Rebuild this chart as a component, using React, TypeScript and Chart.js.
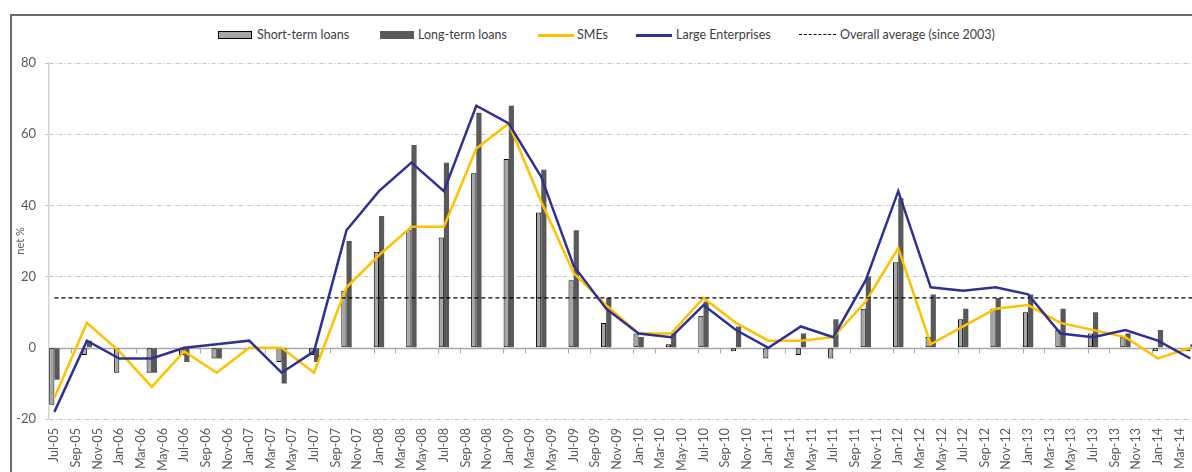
import React, { useEffect, useRef } from "react";
import { Chart, registerables } from "chart.js";

Chart.register(...registerables);

// Monthly category axis (tick labels shown every second month)
const months = [
  "Jul-05", "Aug-05", "Sep-05", "Oct-05", "Nov-05", "Dec-05",
  "Jan-06", "Feb-06", "Mar-06", "Apr-06", "May-06", "Jun-06",
  "Jul-06", "Aug-06", "Sep-06", "Oct-06", "Nov-06", "Dec-06",
  "Jan-07", "Feb-07", "Mar-07", "Apr-07", "May-07", "Jun-07",
  "Jul-07", "Aug-07", "Sep-07", "Oct-07", "Nov-07", "Dec-07",
  "Jan-08", "Feb-08", "Mar-08", "Apr-08", "May-08", "Jun-08",
  "Jul-08", "Aug-08", "Sep-08", "Oct-08", "Nov-08", "Dec-08",
  "Jan-09", "Feb-09", "Mar-09", "Apr-09", "May-09", "Jun-09",
  "Jul-09", "Aug-09", "Sep-09", "Oct-09", "Nov-09", "Dec-09",
  "Jan-10", "Feb-10", "Mar-10", "Apr-10", "May-10", "Jun-10",
  "Jul-10", "Aug-10", "Sep-10", "Oct-10", "Nov-10", "Dec-10",
  "Jan-11", "Feb-11", "Mar-11", "Apr-11", "May-11", "Jun-11",
  "Jul-11", "Aug-11", "Sep-11", "Oct-11", "Nov-11", "Dec-11",
  "Jan-12", "Feb-12", "Mar-12", "Apr-12", "May-12", "Jun-12",
  "Jul-12", "Aug-12", "Sep-12", "Oct-12", "Nov-12", "Dec-12",
  "Jan-13", "Feb-13", "Mar-13", "Apr-13", "May-13", "Jun-13",
  "Jul-13", "Aug-13", "Sep-13", "Oct-13", "Nov-13", "Dec-13",
  "Jan-14", "Feb-14", "Mar-14", "Apr-14", "May-14", "Jun-14",
];

// Survey rounds (quarterly observations)
const quarters = [
  "Jul-05", "Oct-05", "Jan-06", "Apr-06", "Jul-06", "Oct-06",
  "Jan-07", "Apr-07", "Jul-07", "Oct-07", "Jan-08", "Apr-08",
  "Jul-08", "Oct-08", "Jan-09", "Apr-09", "Jul-09", "Oct-09",
  "Jan-10", "Apr-10", "Jul-10", "Oct-10", "Jan-11", "Apr-11",
  "Jul-11", "Oct-11", "Jan-12", "Apr-12", "Jul-12", "Oct-12",
  "Jan-13", "Apr-13", "Jul-13", "Oct-13", "Jan-14", "Apr-14",
];

const shortTermLoans = [
  -16, -2, -7, -7, -2, -3, 0, -4, -2, 16, 27, 33,
  31, 49, 53, 38, 19, 7, 4, 1, 9, -1, -3, -2,
  -3, 11, 24, 3, 8, 11, 10, 5, 4, 3, -1, -1,
];

const longTermLoans = [
  -9, 2, 0, -7, -4, -3, 0, -10, -4, 30, 37, 57,
  52, 66, 68, 50, 33, 14, 3, 4, 13, 6, 0, 4,
  8, 20, 42, 15, 11, 14, 15, 11, 10, 4, 5, 1,
];

const smes = [
  -14, 7, -1, -11, -1, -7, 0, 0, -7, 17, 26, 34,
  34, 56, 63, 41, 21, 12, 4, 4, 14, 7, 2, 2,
  3, 13, 28, 1, 6, 11, 12, 7, 5, 3, -3, 0,
];

const largeEnterprises = [
  -18, 2, -3, -3, 0, 1, 2, -7, -1, 33, 44, 52,
  44, 68, 63, 48, 23, 11, 4, 3, 12, 5, 0, 6,
  3, 19, 44, 17, 16, 17, 15, 4, 3, 5, 2, -3,
];

const overallAverage = 14;

const yTicks = [-20, 0, 20, 40, 60, 80];

const toMonthly = (vals: number[]) =>
  months.map((m) => {
    const i = quarters.indexOf(m);
    return i >= 0 ? vals[i] : null;
  });

const FONT = "Lato, 'DejaVu Sans', sans-serif";
const GRID_DASH = [4, 2, 1, 2];

const zeroLinePlugin = {
  id: "zeroLine",
  beforeDatasetsDraw(chart: any) {
    const { ctx, chartArea, scales } = chart;
    const x = scales.x;
    const y = scales.y;
    const yz = Math.round(y.getPixelForValue(0)) + 0.5;
    const w = x.getPixelForValue(1) - x.getPixelForValue(0);
    ctx.save();
    ctx.strokeStyle = "#a9a9a9";
    ctx.lineWidth = 1.5;
    ctx.beginPath();
    ctx.moveTo(chartArea.left, yz);
    ctx.lineTo(chartArea.right, yz);
    ctx.stroke();
    ctx.lineWidth = 1;
    ctx.beginPath();
    for (let k = 1; k < months.length; k++) {
      if (k % 6 === 0 || k % 6 === 2) {
        const px = Math.round(x.getPixelForValue(k) - w / 2) + 0.5;
        ctx.moveTo(px, yz);
        ctx.lineTo(px, yz + 5);
      }
    }
    ctx.stroke();
    ctx.restore();
  },
};

const legendItems = [
  { label: "Short-term loans", kind: "box", color: "#a6a6a6", border: true, x: 218, tx: 257 },
  { label: "Long-term loans", kind: "box", color: "#595959", border: false, x: 380, tx: 418 },
  { label: "SMEs", kind: "line", color: "#ffc000", x: 538, tx: 577 },
  { label: "Large Enterprises", kind: "line", color: "#2e3192", x: 636, tx: 676 },
  { label: "Overall average (since 2003)", kind: "dash", color: "#000", x: 799, tx: 840 },
];

export default function App() {
  const canvasRef = useRef<HTMLCanvasElement | null>(null);

  useEffect(() => {
    const canvas = canvasRef.current;
    if (!canvas) return;
    const chart = new Chart(canvas, {
      type: "bar",
      data: {
        labels: months,
        datasets: [
          {
            type: "line",
            label: "Large Enterprises",
            data: toMonthly(largeEnterprises),
            borderColor: "#2e3192",
            backgroundColor: "#2e3192",
            borderWidth: 2.5,
            pointRadius: 0,
            spanGaps: true,
            tension: 0,
            order: 0,
          },
          {
            type: "line",
            label: "SMEs",
            data: toMonthly(smes),
            borderColor: "#ffc000",
            backgroundColor: "#ffc000",
            borderWidth: 2.5,
            pointRadius: 0,
            spanGaps: true,
            tension: 0,
            order: 1,
          },
          {
            type: "line",
            label: "Overall average (since 2003)",
            data: months.map(() => overallAverage),
            borderColor: "#000000",
            borderWidth: 1.3,
            borderDash: [4, 3],
            pointRadius: 0,
            order: 0,
          },
          {
            type: "bar",
            label: "Short-term loans",
            data: toMonthly(shortTermLoans),
            backgroundColor: "#a6a6a6",
            borderColor: "#000000",
            borderWidth: 1,
            borderSkipped: false,
            barPercentage: 1,
            categoryPercentage: 0.96,
            order: 2,
          },
          {
            type: "bar",
            label: "Long-term loans",
            data: toMonthly(longTermLoans),
            backgroundColor: "#595959",
            borderWidth: 0,
            barPercentage: 1,
            categoryPercentage: 0.96,
            order: 2,
          },
        ],
      },
      options: {
        responsive: false,
        animation: false,
        devicePixelRatio: 1,
        layout: { padding: { left: 10, top: 63, right: 5, bottom: 0 } },
        plugins: {
          legend: { display: false },
          tooltip: { enabled: false },
        },
        scales: {
          x: {
            type: "category",
            offset: true,
            grid: { display: false, drawTicks: false },
            border: { display: false },
            ticks: {
              autoSkip: false,
              minRotation: 90,
              maxRotation: 90,
              padding: 9,
              color: "#595959",
              font: { family: FONT, size: 12.5 },
              callback: (_v: any, i: number) => (i % 2 === 0 ? months[i] : ""),
            },
            afterFit: (scale: any) => {
              scale.height = 53;
            },
          },
          y: {
            min: -20,
            max: 80,
            afterBuildTicks: (scale: any) => {
              scale.ticks = yTicks.map((v) => ({ value: v }));
            },
            grid: {
              color: (c: any) => (c.tick && c.tick.value === 0 ? "rgba(0,0,0,0)" : "#c4c4c4"),
              tickColor: (c: any) => (c.tick && c.tick.value === 0 ? "rgba(0,0,0,0)" : "#c4c4c4"),
              lineWidth: 1,
              tickLength: 4,
              tickBorderDash: GRID_DASH,
            },
            border: { display: true, color: "#d4d4d4", width: 1.5, dash: GRID_DASH },
            ticks: {
              padding: 9,
              color: "#595959",
              font: { family: FONT, size: 13 },
            },
            title: {
              display: true,
              text: "net %",
              color: "#595959",
              font: { family: FONT, size: 11 },
              padding: { top: 4, bottom: 0 },
            },
            afterFit: (scale: any) => {
              scale.width = 39;
            },
          },
        },
      },
      plugins: [zeroLinePlugin],
    } as any);
    return () => chart.destroy();
  }, []);

  return (
    <div
      style={{
        position: "absolute",
        left: 0,
        top: 0,
        width: 1192,
        height: 472,
        overflow: "hidden",
        background: "#fff",
        fontFamily: FONT,
      }}
    >
      <div
        style={{
          position: "absolute",
          left: 10,
          top: 14,
          width: 2000,
          height: 1000,
          borderLeft: "2px solid #6b6b6b",
          borderTop: "2px solid #6b6b6b",
        }}
      />
      {legendItems.map((it) => (
        <React.Fragment key={it.label}>
          {it.kind === "box" && (
            <div
              style={{
                position: "absolute",
                left: it.x,
                top: 31,
                width: 34,
                height: 8,
                boxSizing: "border-box",
                background: it.color,
                border: it.border ? "1px solid #000" : "none",
              }}
            />
          )}
          {it.kind === "line" && (
            <div
              style={{
                position: "absolute",
                left: it.x,
                top: 34,
                width: 36,
                height: 2.5,
                background: it.color,
              }}
            />
          )}
          {it.kind === "dash" && (
            <div
              style={{
                position: "absolute",
                left: it.x,
                top: 34,
                width: 37,
                height: 0,
                borderTop: "1.5px dashed #000",
              }}
            />
          )}
          <div
            style={{
              position: "absolute",
              left: it.tx,
              top: 27,
              fontSize: 12.5,
              lineHeight: "16px",
              color: "#404040",
              whiteSpace: "nowrap",
            }}
          >
            {it.label}
          </div>
        </React.Fragment>
      ))}
      <canvas
        ref={canvasRef}
        width={1236}
        height={472}
        style={{ position: "absolute", left: 0, top: 0, width: 1236, height: 472 }}
      />
    </div>
  );
}
